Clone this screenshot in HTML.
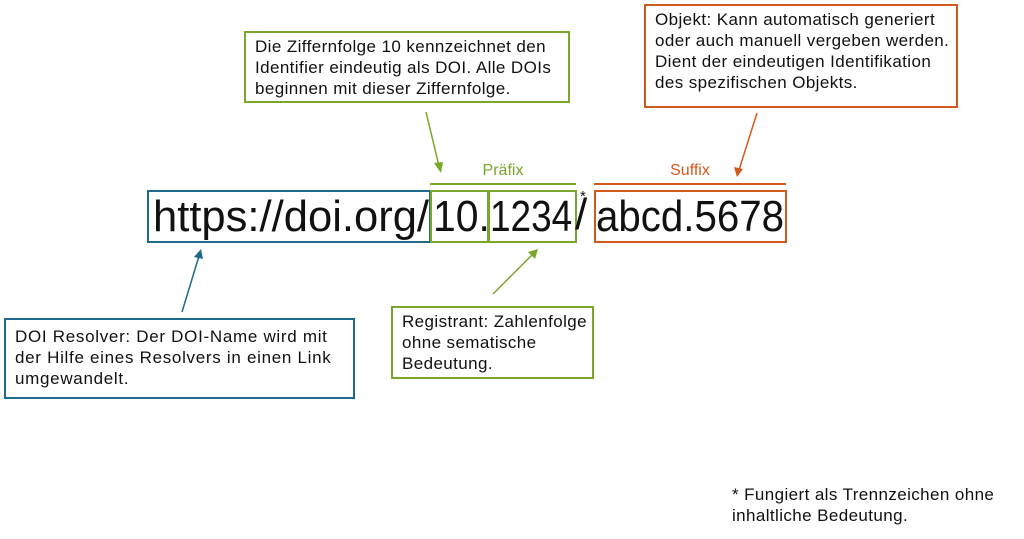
<!DOCTYPE html>
<html><head><meta charset="utf-8"><style>
body{margin:0;width:1024px;height:539px;background:#fff;position:relative;overflow:hidden;font-family:"Liberation Sans",sans-serif;color:#111}
.b{position:absolute;box-sizing:border-box;border:2px solid;font-size:17px;letter-spacing:0.4px;line-height:21px;padding:3px 0 0 9px;white-space:nowrap}
.big{position:absolute;top:190px;height:53px;box-sizing:border-box;border:2px solid;font-size:44px;line-height:49px;white-space:nowrap}
.big span,.sx{display:inline-block;transform-origin:0 0}
.t{position:absolute;white-space:nowrap}
</style></head><body>
<div class="b" style="left:244px;top:31px;width:326px;height:72px;border-color:#7aa62a">Die Ziffernfolge 10 kennzeichnet den<br>Identifier eindeutig als DOI. Alle DOIs<br>beginnen mit dieser Ziffernfolge.</div>
<div class="b" style="left:644px;top:4px;width:314px;height:104px;border-color:#d35a1f">Objekt: Kann automatisch generiert<br>oder auch manuell vergeben werden.<br>Dient der eindeutigen Identifikation<br>des spezifischen Objekts.</div>
<div class="b" style="left:4px;top:318px;width:351px;height:81px;border-color:#1f6a8a;padding-top:6px;letter-spacing:0.7px">DOI Resolver: Der DOI-Name wird mit<br>der Hilfe eines Resolvers in einen Link<br>umgewandelt.</div>
<div class="b" style="left:391px;top:306px;width:203px;height:73px;border-color:#7aa62a">Registrant: Zahlenfolge<br>ohne sematische<br>Bedeutung.</div>
<div class="big" style="left:147px;width:284px;border-color:#1f6a8a;padding-left:4px"><span style="transform:scaleX(0.99)">https://doi.org/</span></div>
<div class="big" style="left:430px;width:59px;border-color:#7aa62a;padding-left:1px"><span style="transform:scaleX(0.93)">10.</span></div>
<div class="big" style="left:488px;width:89px;border-color:#7aa62a;padding-left:0px"><span style="transform:scaleX(0.84)">1234</span></div>
<div class="t" style="left:575px;top:190px;font-size:44px;line-height:49px">/</div>
<div class="t" style="left:580px;top:188px;font-size:15px">*</div>
<div class="big" style="left:594px;width:193px;border-color:#d35a1f;padding-left:0px"><span style="transform:scaleX(0.915)">abcd.5678</span></div>
<div class="t" style="left:430px;width:146px;text-align:center;top:162px;font-size:16px;color:#7aa62a">Präfix</div>
<div class="t" style="left:594px;width:192px;text-align:center;top:162px;font-size:16px;color:#d35a1f">Suffix</div>
<div class="t" style="left:732px;top:484px;font-size:17px;letter-spacing:0.4px;line-height:21px">* Fungiert als Trennzeichen ohne<br>inhaltliche Bedeutung.</div>
<svg width="1024" height="539" style="position:absolute;left:0;top:0">
<line x1="430" y1="184" x2="576" y2="184" stroke="#7aa62a" stroke-width="2"/>
<line x1="594" y1="184" x2="786" y2="184" stroke="#d35a1f" stroke-width="2"/>
<g stroke-width="1.5" fill="none">
<line x1="426" y1="112" x2="439" y2="166" stroke="#7aa62a"/>
<line x1="493" y1="294" x2="533" y2="254" stroke="#7aa62a"/>
<line x1="757" y1="113" x2="739" y2="170" stroke="#d35a1f"/>
<line x1="182" y1="312" x2="199" y2="256" stroke="#1f6a8a"/>
</g>
<polygon points="441,173 434,163 443,162" fill="#7aa62a"/>
<polygon points="538,249 535,259 528,252" fill="#7aa62a"/>
<polygon points="737,177 734,167 743,169" fill="#d35a1f"/>
<polygon points="201,249 203,259 194,257" fill="#1f6a8a"/>
</svg>
</body></html>
